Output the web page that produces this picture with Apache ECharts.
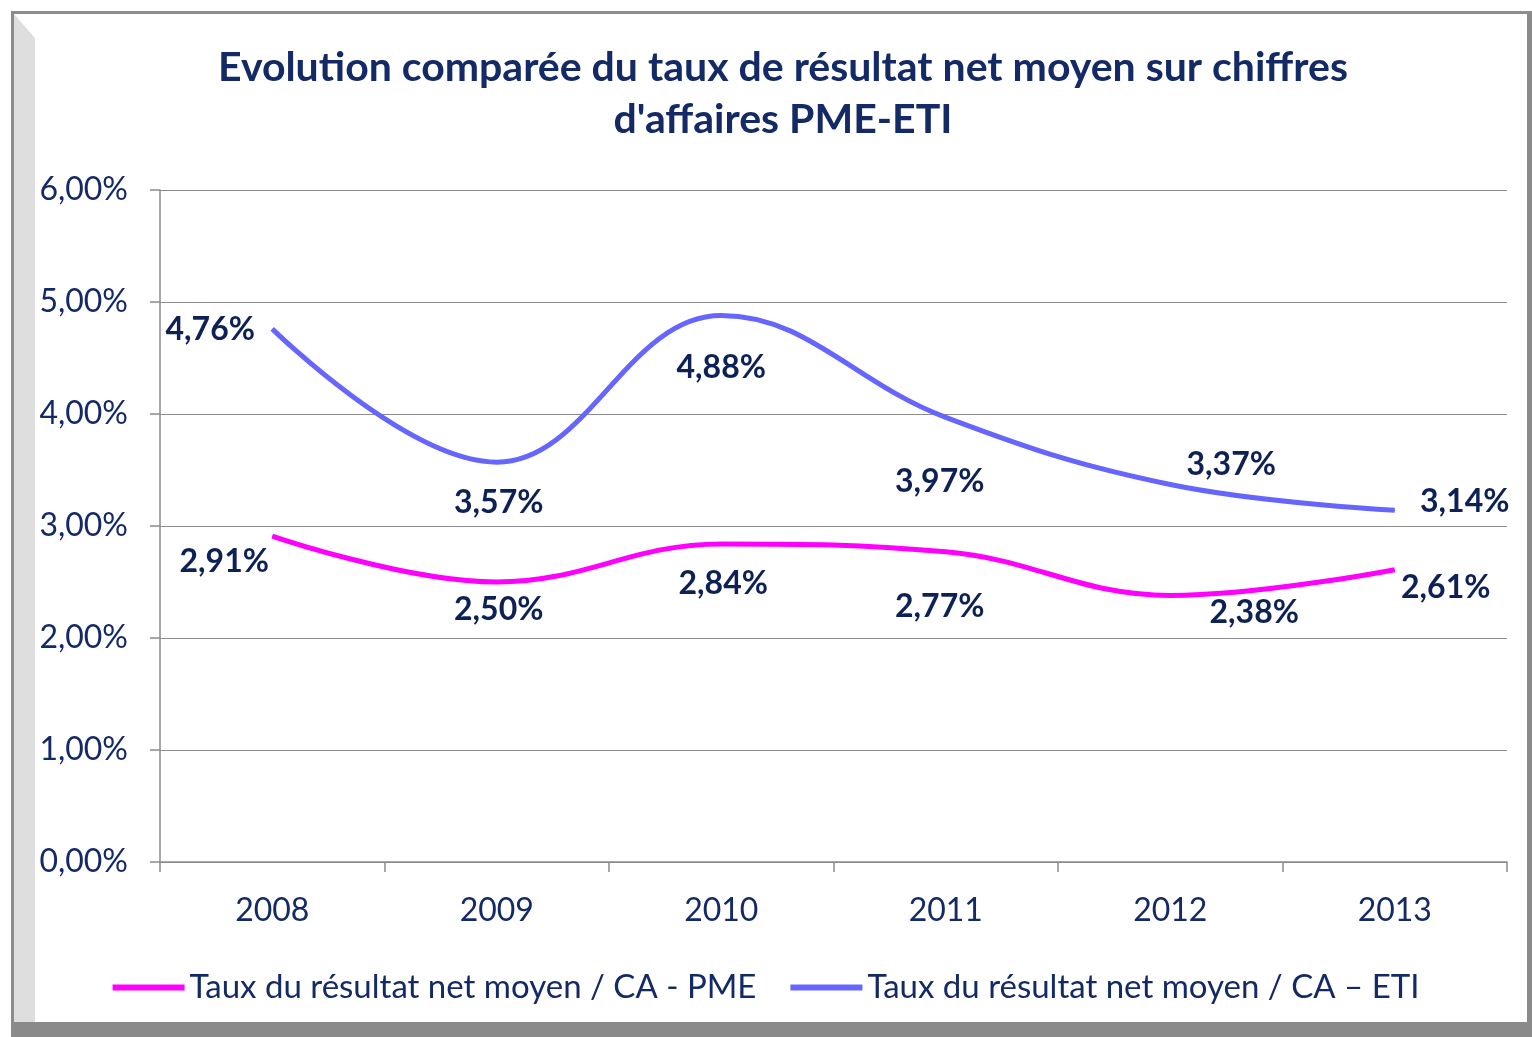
<!DOCTYPE html>
<html>
<head>
<meta charset="utf-8">
<title>Evolution comparée du taux de résultat net moyen</title>
<script src="https://cdn.jsdelivr.net/npm/echarts@6/dist/echarts.min.js"></script>
<style>
  html, body { margin: 0; padding: 0; background: #ffffff; }
  #frame {
    position: absolute; left: 11px; top: 11px; width: 1521px; height: 1026px;
    box-sizing: border-box; border-top: 3px solid #8c8c8c; border-left: 3px solid #8c8c8c;
    background: #ffffff;
  }
  #bevel {
    position: absolute; left: 14px; top: 14px; width: 21px; height: 1008px;
    background: #dedede;
    clip-path: polygon(0 0, 100% 24px, 100% 100%, 0 100%);
  }
  #bottomBand { position: absolute; left: 14px; top: 1022px; width: 1518px; height: 15px; background: #8a8a8a; }
  #rightBand { position: absolute; left: 1527px; top: 14px; width: 5px; height: 1023px; background: #8a8a8a; }
  #chart { position: absolute; left: 0; top: 0; width: 1532px; height: 1037px; }
</style>
</head>
<body>
<div id="frame"></div>
<div id="bevel"></div>
<div id="bottomBand"></div>
<div id="rightBand"></div>
<div id="chart"></div>
<script>
// données (en %)
const years = ['2008', '2009', '2010', '2011', '2012', '2013']
const pmeValues = [2.91, 2.50, 2.84, 2.77, 2.38, 2.61]
const etiValues = [4.76, 3.57, 4.88, 3.97, 3.37, 3.14]
const seriesNames = ['Taux du résultat net moyen / CA - PME', 'Taux du résultat net moyen / CA \u2013 ETI']

// placement des étiquettes (style uniquement)
const pmeLabelOffsets = [[-48, 26], [2, 28], [2, 40], [-6, 55], [84, 17], [51, 18]]
const etiLabelOffsets = [[-62, 1], [2, 41], [0, 52], [-6, 64], [61, -20], [70, -9]]

const navy = '#142a66'
const labelNavy = '#0d2156'
const fontFamily = 'Lato, "Open Sans", sans-serif'

const fmt = (v) => v.toFixed(2).replace('.', ',') + '%'

const buildData = (values, offsets) =>
  values.map((v, i) => ({
    value: v,
    label: { offset: offsets[i] },
  }))

const myChart = echarts.init(document.getElementById('chart'), null, { renderer: 'canvas' })

const seriesLabel = {
  show: true,
  position: 'inside',
  color: labelNavy,
  fontFamily: fontFamily,
  fontWeight: 'bold',
  fontSize: 32,
  formatter: (p) => fmt(p.value),
}

const option = {
  backgroundColor: 'transparent',
  animation: false,
  title: {
    text: 'Evolution comparée du taux de résultat net moyen sur chiffres\nd\'affaires PME-ETI',
    left: 778,
    textAlign: 'center',
    top: 37,
    textStyle: {
      color: navy,
      fontFamily: fontFamily,
      fontWeight: 'bold',
      fontSize: 41,
      lineHeight: 52,
    },
  },
  grid: {
    left: 160,
    right: 25,
    top: 190,
    bottom: 175,
  },
  legend: {
    bottom: 28,
    left: 'center',
    itemWidth: 72,
    itemHeight: 6,
    itemGap: 34,
    icon: 'rect',
    textStyle: { color: navy, fontFamily: fontFamily, fontSize: 33 },
    data: seriesNames,
  },
  xAxis: {
    type: 'category',
    data: years,
    boundaryGap: true,
    axisLine: { lineStyle: { color: '#8c8c8c', width: 1.5 } },
    axisTick: { show: true, length: 10, lineStyle: { color: '#8c8c8c', width: 1.5 } },
    axisLabel: { color: navy, fontFamily: fontFamily, fontSize: 32, margin: 33 },
  },
  yAxis: {
    type: 'value',
    min: 0,
    max: 6,
    interval: 1,
    axisLine: { show: true, lineStyle: { color: '#8c8c8c', width: 1.5 } },
    axisTick: { show: true, length: 10, lineStyle: { color: '#8c8c8c', width: 1.5 } },
    splitLine: { lineStyle: { color: '#8c8c8c', width: 1.2 } },
    axisLabel: { color: navy, fontFamily: fontFamily, fontSize: 32, margin: 32, formatter: fmt },
  },
  series: [
    {
      name: seriesNames[0],
      type: 'line',
      smooth: 0.4,
      symbol: 'circle',
      symbolSize: 1,
      showSymbol: true,
      lineStyle: { color: '#ff00ff', width: 5 },
      itemStyle: { color: '#ff00ff' },
      label: seriesLabel,
      data: buildData(pmeValues, pmeLabelOffsets),
    },
    {
      name: seriesNames[1],
      type: 'line',
      smooth: 0.4,
      symbol: 'circle',
      symbolSize: 1,
      showSymbol: true,
      lineStyle: { color: '#6666ff', width: 5 },
      itemStyle: { color: '#6666ff' },
      label: seriesLabel,
      data: buildData(etiValues, etiLabelOffsets),
    },
  ],
}

myChart.setOption(option)
</script>
</body>
</html>
